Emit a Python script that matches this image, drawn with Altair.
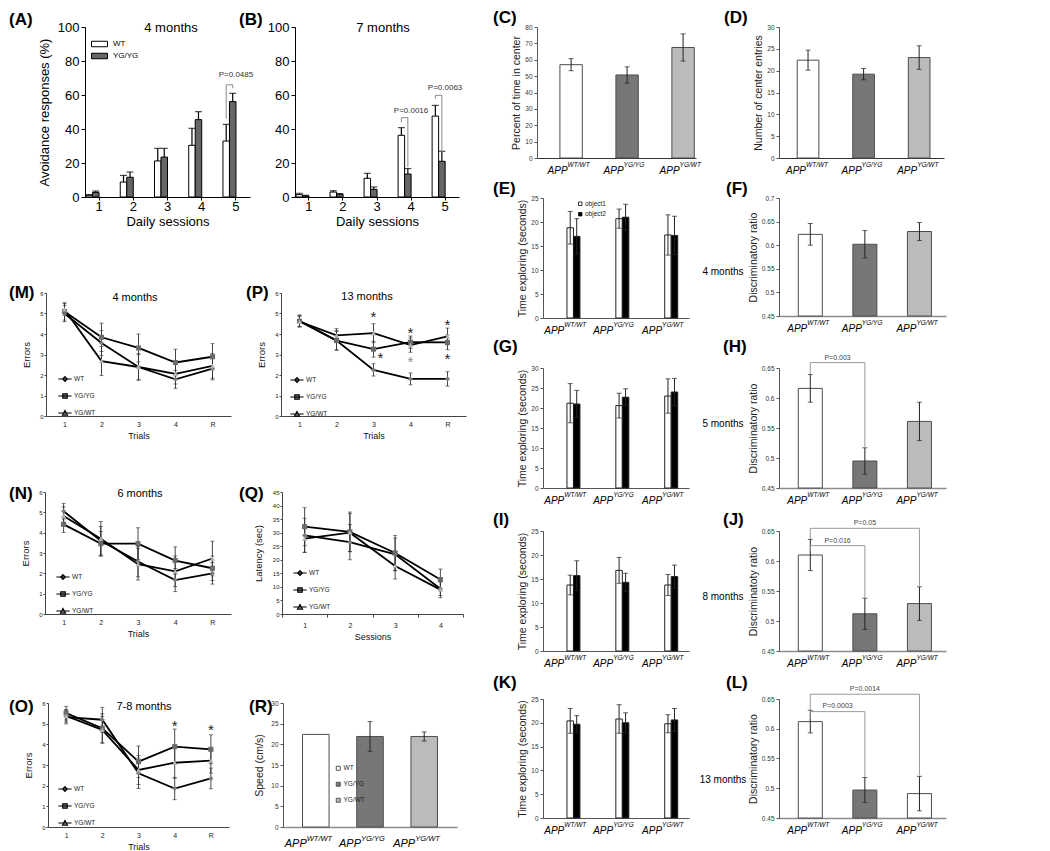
import altair as alt
import pandas as pd

FONT = "Liberation Sans"

# ======================= DATA =======================
# (A) / (B) active avoidance
SESSIONS = ["1", "2", "3", "4", "5"]
AB_GROUPS = ["WT", "YG/YG"]
A_WT = [1.0, 8.8, 21.2, 30.4, 32.9]
A_WT_ERR = [0.4, 3.9, 7.4, 10.0, 9.8]
A_YG = [2.7, 11.6, 23.5, 45.5, 56.1]
A_YG_ERR = [0.8, 3.1, 5.1, 4.7, 4.9]
B_WT = [1.4, 2.9, 11.0, 36.3, 47.6]
B_WT_ERR = [0.8, 0.8, 2.9, 4.5, 6.3]
B_YG = [0.6, 1.6, 4.5, 13.5, 21.0]
B_YG_ERR = [0.4, 0.4, 1.4, 3.2, 5.9]
A_BR_ID = ["a5"] * 4
A_BR_SESSION = ["5"] * 4
A_BR_GROUP = ["WT", "WT", "YG/YG", "YG/YG"]
A_BR_Y = [46.0, 66.0, 66.0, 64.0]
A_P_LABEL = ["P=0.0485"]
A_P_SESSION = ["5"]
A_P_Y = [71.5]
B_BR_ID = ["b4"] * 4 + ["b5"] * 4
B_BR_SESSION = ["4"] * 4 + ["5"] * 4
B_BR_GROUP = ["WT", "WT", "YG/YG", "YG/YG"] * 2
B_BR_Y = [44.0, 46.7, 46.7, 17.6, 57.8, 59.8, 59.8, 26.5]
B_P_LABEL = ["P=0.0016", "P=0.0063"]
B_P_SESSION = ["4", "5"]
B_P_Y = [50.4, 64.3]

# (M)(N)(O)(P) errors, (Q) latency
TRIALS = ["1", "2", "3", "4", "R"]
SESSIONS4 = ["1", "2", "3", "4"]
LINE_GENOS = ["WT", "YG/YG", "YG/WT"]
M_WT = [5.0, 3.56, 2.39, 1.79, 2.31]
M_WT_ERR = [0.4, 0.6, 0.6, 0.44, 0.55]
M_YG = [5.1, 3.84, 3.32, 2.61, 2.89]
M_YG_ERR = [0.42, 0.69, 0.68, 0.65, 0.64]
M_YW = [5.2, 2.68, 2.39, 2.06, 2.44]
M_YW_ERR = [0.3, 0.71, 0.65, 0.5, 0.6]
P_WT = [4.65, 3.68, 2.25, 1.81, 1.81]
P_WT_ERR = [0.28, 0.45, 0.3, 0.29, 0.35]
P_YG = [4.62, 3.68, 3.26, 3.6, 3.59]
P_YG_ERR = [0.28, 0.48, 0.39, 0.3, 0.36]
P_YW = [4.6, 3.93, 4.04, 3.46, 3.88]
P_YW_ERR = [0.25, 0.33, 0.46, 0.35, 0.41]
P_STAR_TRIAL = ["3", "3", "4", "4", "R", "R"]
P_STAR_Y = [4.97, 2.97, 4.2, 2.77, 4.58, 2.93]
P_STAR_COLOR = ["#222222", "#222222", "#222222", "#8c8c8c", "#222222", "#222222"]
P_STAR_SIDE = [0, 1, 0, 0, 0, 0]
N_WT = [5.05, 3.6, 2.58, 1.67, 2.0]
N_WT_ERR = [0.38, 0.7, 0.75, 0.57, 0.53]
N_YG = [4.41, 3.46, 3.46, 2.63, 2.25]
N_YG_ERR = [0.4, 0.6, 0.78, 0.67, 0.6]
N_YW = [4.82, 3.7, 2.45, 2.1, 2.73]
N_YW_ERR = [0.45, 0.85, 0.78, 0.75, 0.85]
Q_WT = [29.0, 26.5, 22.0, 9.3]
Q_WT_ERR = [6.3, 6.5, 6.0, 2.5]
Q_YG = [32.2, 30.3, 22.5, 12.7]
Q_YG_ERR = [7.0, 7.3, 6.5, 3.9]
Q_YW = [27.8, 30.0, 17.7, 9.0]
Q_YW_ERR = [5.0, 7.0, 4.8, 3.0]
O_WT = [5.32, 5.19, 2.6, 1.86, 2.35]
O_WT_ERR = [0.33, 0.6, 0.74, 0.54, 0.5]
O_YG = [5.51, 4.78, 3.16, 3.89, 3.76]
O_YG_ERR = [0.33, 0.7, 0.76, 0.85, 0.7]
O_YW = [5.38, 4.7, 2.76, 3.11, 3.21]
O_YW_ERR = [0.3, 0.65, 0.7, 0.75, 0.6]
O_STAR_TRIAL = ["4", "R"]
O_STAR_Y = [5.03, 4.86]
O_STAR_COLOR = ["#222222", "#222222"]
O_STAR_SIDE = [0, 0]

# right column genotype bar charts
GENO = ["WT/WT", "YG/YG", "YG/WT"]
OBJECTS = ["object1", "object2"]
C_VAL = [57.0, 50.7, 67.5]
C_ERR = [3.7, 5.0, 8.3]
D_VAL = [22.4, 19.2, 23.0]
D_ERR = [2.3, 1.3, 2.7]
E_OBJ1 = [18.8, 20.7, 17.3]
E_OBJ1_ERR = [3.4, 2.0, 4.2]
E_OBJ2 = [17.0, 21.0, 17.2]
E_OBJ2_ERR = [3.7, 2.7, 4.0]
F_VAL = [0.623, 0.602, 0.629]
F_ERR = [0.023, 0.029, 0.019]
G_OBJ1 = [21.2, 20.6, 23.0]
G_OBJ1_ERR = [4.9, 3.1, 4.3]
G_OBJ2 = [21.0, 22.7, 24.0]
G_OBJ2_ERR = [3.4, 2.1, 3.4]
H_VAL = [0.616, 0.495, 0.561]
H_ERR = [0.023, 0.022, 0.032]
I_OBJ1 = [13.75, 16.8, 13.75]
I_OBJ1_ERR = [2.05, 2.7, 2.2]
I_OBJ2 = [15.7, 14.3, 15.5]
I_OBJ2_ERR = [3.1, 1.9, 2.4]
J_VAL = [0.610, 0.512, 0.529]
J_ERR = [0.026, 0.026, 0.028]
K_OBJ1 = [20.4, 20.8, 19.8]
K_OBJ1_ERR = [2.6, 3.0, 1.9]
K_OBJ2 = [19.7, 20.0, 20.6]
K_OBJ2_ERR = [1.8, 2.1, 2.4]
L_VAL = [0.612, 0.497, 0.491]
L_ERR = [0.019, 0.021, 0.029]
R_VAL = [22.4, 21.9, 21.9]
R_ERR = [0.0, 3.6, 1.1]
H_BR_ID = ["h"] * 4
H_BR_GENO = ["WT/WT", "WT/WT", "YG/YG", "YG/YG"]
H_BR_Y = [0.640, 0.659, 0.659, 0.519]
H_P_LABEL = ["P=0.003"]
H_P_FROM = ["WT/WT"]
H_P_TO = ["YG/YG"]
H_P_Y = [0.666]
J_BR_ID = ["j1"] * 4 + ["j2"] * 4
J_BR_GENO = ["WT/WT", "WT/WT", "YG/WT", "YG/WT", "WT/WT", "WT/WT", "YG/YG", "YG/YG"]
J_BR_Y = [0.637, 0.6545, 0.6545, 0.557, 0.617, 0.6256, 0.6256, 0.538]
J_P_LABEL = ["P=0.05", "P=0.016"]
J_P_FROM = ["WT/WT", "WT/WT"]
J_P_TO = ["YG/WT", "YG/YG"]
J_P_Y = [0.663, 0.634]
L_BR_ID = ["l1"] * 4 + ["l2"] * 4
L_BR_GENO = ["WT/WT", "WT/WT", "YG/WT", "YG/WT", "WT/WT", "WT/WT", "YG/YG", "YG/YG"]
L_BR_Y = [0.630, 0.658, 0.658, 0.5215, 0.6165, 0.6288, 0.6288, 0.519]
L_P_LABEL = ["P=0.0014", "P=0.0003"]
L_P_FROM = ["WT/WT", "WT/WT"]
L_P_TO = ["YG/WT", "YG/YG"]
L_P_Y = [0.667, 0.638]

# ======================= STYLE =======================
MARK_SHAPES = ["diamond", "square", "triangle-up"]
MARK_FILLS = ["#7c7c7c", "#6a6a6a", "#b2b2b2"]
LEGEND_PATHS = [
    "M-2.2,0H2.2M0,-0.8L0.8,0L0,0.8L-0.8,0Z",
    "M-2.2,0H2.2M-0.75,-0.75H0.75V0.75H-0.75Z",
    "M-2.2,0H2.2M0,-0.85L0.85,0.7H-0.85Z",
]


def letter(text, x, y):
    """Panel letter, placed relative to the plot area's top-left corner."""
    return alt.Chart(pd.DataFrame({"t": [text]})).mark_text(
        fontSize=17, fontWeight="bold", font=FONT, align="left", baseline="alphabetic",
        color="black").encode(x=alt.value(x), y=alt.value(y), text="t:N")


def note(text, x, y, size, color="black"):
    return alt.Chart(pd.DataFrame({"t": [text]})).mark_text(
        fontSize=size, font=FONT, align="center", baseline="middle", color=color
    ).encode(x=alt.value(x), y=alt.value(y), text="t:N")


def spacer(w):
    return alt.Chart(pd.DataFrame({"t": [""]})).mark_text().encode(
        text="t:N").properties(width=w, height=1)


def indep(ch):
    return ch.resolve_scale(fill="independent", color="independent", shape="independent")


# ---------------- (A)/(B) ----------------
def ab_panel(wt, wte, yg, yge, br, pt, lab, lpos, month, mx, ytitle, legend, w, h=170):
    rows = []
    for i, s in enumerate(SESSIONS):
        rows.append({"s": s, "grp": "WT", "v": wt[i], "hi": wt[i] + wte[i]})
        rows.append({"s": s, "grp": "YG/YG", "v": yg[i], "hi": yg[i] + yge[i]})
    df = pd.DataFrame(rows)
    xax = alt.Axis(title="Daily sessions", labelAngle=0, labelFontSize=13, titleFontSize=13,
                   titleFontWeight="normal", tickSize=3, labelPadding=0, titlePadding=2,
                   domainColor="black", tickColor="black", labelColor="black", titleColor="black",
                   labelFont=FONT, titleFont=FONT)
    xsc = alt.Scale(domain=SESSIONS, paddingInner=0.24, paddingOuter=0.03)
    x = alt.X("s:N", sort=SESSIONS, scale=xsc, axis=xax)
    xo = alt.XOffset("grp:N", sort=AB_GROUPS, scale=alt.Scale(domain=AB_GROUPS))
    yax = alt.Axis(values=[0, 20, 40, 60, 80, 100], title=ytitle, labelFontSize=13,
                   titleFontSize=13, titleFontWeight="normal", tickSize=4, labelPadding=2,
                   titlePadding=6, domainColor="black", tickColor="black", labelColor="black",
                   titleColor="black", labelFont=FONT, titleFont=FONT)
    ysc = alt.Scale(domain=[0, 100], nice=False)

    def Y(f):
        return alt.Y(f, scale=ysc, axis=yax)

    fill = alt.Fill("grp:N", sort=AB_GROUPS,
                    scale=alt.Scale(domain=AB_GROUPS, range=["white", "#666666"]), legend=legend)
    base = alt.Chart(df)
    bars = base.mark_bar(stroke="black", strokeWidth=1).encode(x=x, xOffset=xo, y=Y("v:Q"), fill=fill)
    rule = base.mark_rule(color="black", strokeWidth=1.2).encode(
        x=x, xOffset=xo, y=Y("v:Q"), y2="hi:Q")
    cap = base.mark_tick(color="black", thickness=1.2, size=7).encode(
        x=x, xOffset=xo, y=Y("hi:Q"))
    ids, ss, gs, ys = br
    order = [sum(1 for j in range(k) if ids[j] == b) for k, b in enumerate(ids)]
    bdf = pd.DataFrame({"id": ids, "s": ss, "grp": gs, "y": ys, "o": order})
    brk = alt.Chart(bdf).mark_line(color="#8a8a8a", strokeWidth=1).encode(
        x=x, xOffset=xo, y=Y("y:Q"), detail="id:N", order="o:Q")
    labs, lss, lys = pt
    pdf = pd.DataFrame({"t": labs, "s": lss, "y": lys})
    ptxt = alt.Chart(pdf).mark_text(fontSize=8, font=FONT, color="#333333", fill="#333333",
                                    baseline="middle").encode(x=x, y=Y("y:Q"), text="t:N")
    mon = note(month, mx, 1, 13)
    return alt.layer(bars, rule, cap, brk, ptxt, mon, letter(lab, *lpos)).properties(
        width=w, height=h)


# ---------------- line panels ----------------
def line_panel(cats, series, w, h, ydom, yvals, ytitle, xtitle, lab, lpos,
               legx, legy, month=None, mpos=(0, 0), stars=None, band=False, tpad=8):
    rows = []
    for g, (vals, errs) in zip(LINE_GENOS, series):
        for i, c in enumerate(cats):
            rows.append({"c": c, "i": i, "g": g, "v": vals[i],
                         "lo": vals[i] - errs[i], "hi": vals[i] + errs[i]})
    df = pd.DataFrame(rows)
    axkw = dict(labelFontSize=7, labelFont=FONT, labelColor="#222222", titleFontSize=9,
                titleFont=FONT, titleFontWeight="normal", titleColor="#111111",
                domainColor="#444444", labelAngle=0, labelPadding=4, titlePadding=4)
    if band:
        xsc = alt.Scale(type="band", domain=cats, paddingInner=0, paddingOuter=0)
        xax = alt.Axis(title=xtitle, ticks=True, tickBand="extent", tickSize=3,
                       tickColor="#444444", **axkw)
    else:
        xsc = alt.Scale(type="point", domain=cats, padding=0.5)
        xax = alt.Axis(title=xtitle, ticks=False, **axkw)
    x = alt.X("c:N", sort=cats, scale=xsc, axis=xax)
    yax = alt.Axis(values=yvals, title=ytitle, labelFontSize=6, labelFont=FONT,
                   labelColor="#222222", tickSize=2, tickColor="#444444", domainColor="#444444",
                   titleFontSize=9.5, titleFont=FONT, titleFontWeight="normal",
                   titleColor="#111111", titlePadding=tpad, labelPadding=1)
    ysc = alt.Scale(domain=ydom, nice=False)

    def Y(f):
        return alt.Y(f, scale=ysc, axis=yax)

    base = alt.Chart(df)
    lines = base.mark_line(color="black", strokeWidth=1.8).encode(
        x=x, y=Y("v:Q"), detail="g:N", order="i:Q")
    rule = base.mark_rule(color="#333333", strokeWidth=0.9).encode(x=x, y=Y("lo:Q"), y2="hi:Q")
    caplo = base.mark_tick(color="#333333", thickness=0.9, size=4).encode(x=x, y=Y("lo:Q"))
    caphi = base.mark_tick(color="#333333", thickness=0.9, size=4).encode(x=x, y=Y("hi:Q"))
    marks = base.mark_point(filled=True, opacity=1, size=26, strokeWidth=0).encode(
        x=x, y=Y("v:Q"),
        shape=alt.Shape("g:N", scale=alt.Scale(domain=LINE_GENOS, range=MARK_SHAPES), legend=None),
        color=alt.Color("g:N", scale=alt.Scale(domain=LINE_GENOS, range=MARK_FILLS), legend=None))
    leg = alt.Legend(title=None, orient="none", legendX=legx, legendY=legy, direction="vertical",
                     symbolSize=36, symbolStrokeColor="black", symbolStrokeWidth=1.1,
                     labelFontSize=6.5, labelFont=FONT, labelColor="#222222", labelOffset=5,
                     rowPadding=7, padding=0)
    legl = base.transform_filter("false").mark_point(
        filled=True, opacity=1, stroke="black", strokeWidth=1.1).encode(
        shape=alt.Shape("g:N", scale=alt.Scale(domain=LINE_GENOS, range=LEGEND_PATHS), legend=leg),
        color=alt.Color("g:N", scale=alt.Scale(domain=LINE_GENOS, range=MARK_FILLS), legend=leg))
    layers = [lines, rule, caplo, caphi, marks, legl]
    if stars is not None:
        s_cats, s_ys, s_cols, s_side = stars
        sdf = pd.DataFrame({"c": s_cats, "y": s_ys, "col": s_cols, "side": s_side})
        for side, dx in [(0, 0), (1, 7)]:
            layers.append(alt.Chart(sdf).transform_filter(f"datum.side == {side}").mark_text(
                text="*", fontSize=15, font=FONT, baseline="middle", dx=dx, dy=3).encode(
                x=x, y=Y("y:Q"), color=alt.Color("col:N", scale=None, legend=None)))
    if month:
        layers.append(note(month, mpos[0], mpos[1], 11))
    layers.append(letter(lab, *lpos))
    return alt.layer(*layers).resolve_scale(shape="independent", color="independent").properties(
        width=w, height=h)


# ---------------- genotype bar panels ----------------
def app_labels(h, dx, x, app_size=10, sup_size=6.5, y_app=16, y_sup=9):
    df = pd.DataFrame({"g": GENO})
    app = alt.Chart(df).mark_text(text="APP", align="right", baseline="alphabetic",
                                  fontSize=app_size, fontStyle="italic", font=FONT, dx=dx,
                                  color="black").encode(x=x, y=alt.value(h + y_app))
    sup = alt.Chart(df).mark_text(align="left", baseline="alphabetic", fontSize=sup_size,
                                  fontStyle="italic", font=FONT, dx=dx, color="black").encode(
        x=x, y=alt.value(h + y_sup), text="g:N")
    return [app, sup]


def yaxis_small(title, values, fmt=None, tpad=3):
    kw = dict(values=values, title=title, labelFontSize=6.5, labelFont=FONT, labelColor="#333333",
              tickSize=3, tickColor="#555555", domainColor="#555555", titleFontSize=10.5,
              titleFont=FONT, titleFontWeight="normal", titleColor="#222222",
              titlePadding=tpad, labelPadding=2, grid=False)
    if fmt:
        kw["format"] = fmt
    return alt.Axis(**kw)


def bar_panel(vals, errs, fills, ydom, yvals, ytitle, w, h, lab, lpos, pi, po, al,
              fmt=None, app_dx=-3, app_kw=None, br=None, pt=None, side=None, legend=None,
              tpad=3, xcolor="#8c8c8c", xwidth=1.5):
    df = pd.DataFrame({"g": GENO, "v": vals, "e": errs,
                       "lo": [v - e for v, e in zip(vals, errs)],
                       "hi": [v + e for v, e in zip(vals, errs)]})
    x = alt.X("g:N", sort=GENO,
              scale=alt.Scale(domain=GENO, paddingInner=pi, paddingOuter=po, align=al),
              axis=alt.Axis(title=None, labels=False, ticks=False, domainColor=xcolor,
                            domainWidth=xwidth))
    ysc = alt.Scale(domain=ydom, nice=False, zero=False)
    yax = yaxis_small(ytitle, yvals, fmt, tpad)

    def Y(f):
        return alt.Y(f, scale=ysc, axis=yax)

    base = alt.Chart(df)
    bars = base.mark_bar(stroke="#4d4d4d", strokeWidth=1).encode(
        x=x, y=Y("v:Q"), y2=alt.datum(ydom[0]),
        fill=alt.Fill("g:N", sort=GENO, scale=alt.Scale(domain=GENO, range=fills), legend=legend))
    eb = base.transform_filter("datum.e > 0")
    rule = eb.mark_rule(color="#222222", strokeWidth=1).encode(x=x, y=Y("lo:Q"), y2="hi:Q")
    caplo = eb.mark_tick(color="#222222", thickness=1, size=5).encode(x=x, y=Y("lo:Q"))
    caphi = eb.mark_tick(color="#222222", thickness=1, size=5).encode(x=x, y=Y("hi:Q"))
    layers = [bars, rule, caplo, caphi]
    step = w / (3 - pi + 2 * po)
    if br is not None:
        ids, gs, ys = br
        order = [sum(1 for j in range(k) if ids[j] == b) for k, b in enumerate(ids)]
        bdf = pd.DataFrame({"id": ids, "g": gs, "y": ys, "o": order})
        layers.append(alt.Chart(bdf).mark_line(color="#9a9a9a", strokeWidth=1).encode(
            x=x, y=Y("y:Q"), detail="id:N", order="o:Q"))
    if pt is not None:
        labs, fr, to, ys = pt
        for labl, f, t, yv in zip(labs, fr, to, ys):
            mid = (GENO.index(f) + GENO.index(t)) / 2.0
            cat = GENO[int(mid)]
            dx = (mid - int(mid)) * step
            tdf = pd.DataFrame({"t": [labl], "g": [cat], "y": [yv]})
            layers.append(alt.Chart(tdf).mark_text(fontSize=7, font=FONT, color="#444444",
                                                   fill="#444444", baseline="middle",
                                                   dx=dx).encode(
                x=x, y=Y("y:Q"), text="t:N"))
    layers += app_labels(h, app_dx, x, **(app_kw or {}))
    if side is not None:
        layers.append(note(side[0], side[1], side[2], 10))
    layers.append(letter(lab, *lpos))
    return alt.layer(*layers).properties(width=w, height=h)


def group_panel(o1, e1, o2, e2, ydom, yvals, ytitle, w, h, lab, lpos, legend=None):
    rows = []
    for i, g in enumerate(GENO):
        rows.append({"g": g, "obj": "object1", "v": o1[i], "lo": o1[i] - e1[i], "hi": o1[i] + e1[i]})
        rows.append({"g": g, "obj": "object2", "v": o2[i], "lo": o2[i] - e2[i], "hi": o2[i] + e2[i]})
    df = pd.DataFrame(rows)
    x = alt.X("g:N", sort=GENO,
              scale=alt.Scale(domain=GENO, paddingInner=0.413, paddingOuter=0.2, align=0.56),
              axis=alt.Axis(title=None, labels=False, ticks=False, domainColor="#555555"))
    xo = alt.XOffset("obj:N", sort=OBJECTS,
                     scale=alt.Scale(domain=OBJECTS, paddingInner=0, paddingOuter=0))
    ysc = alt.Scale(domain=ydom, nice=False)
    yax = yaxis_small(ytitle, yvals)

    def Y(f):
        return alt.Y(f, scale=ysc, axis=yax)

    base = alt.Chart(df)
    bars = base.mark_bar(stroke="#222222", strokeWidth=1).encode(
        x=x, xOffset=xo, y=Y("v:Q"),
        fill=alt.Fill("obj:N", sort=OBJECTS,
                      scale=alt.Scale(domain=OBJECTS, range=["white", "black"]), legend=legend))
    rule = base.mark_rule(color="#222222", strokeWidth=1).encode(
        x=x, xOffset=xo, y=Y("lo:Q"), y2="hi:Q")
    caplo = base.mark_tick(color="#222222", thickness=1, size=5).encode(x=x, xOffset=xo, y=Y("lo:Q"))
    caphi = base.mark_tick(color="#222222", thickness=1, size=5).encode(x=x, xOffset=xo, y=Y("hi:Q"))
    layers = [bars, rule, caplo, caphi] + app_labels(h, -4, x) + [letter(lab, *lpos)]
    return alt.layer(*layers).properties(width=w, height=h)


# ======================= PANELS =======================
leg_ab = alt.Legend(title=None, orient="none", legendX=9, legendY=11.5, direction="vertical",
                    symbolType="M-1.6,-0.55H1.6V0.55H-1.6Z", symbolSize=100,
                    symbolStrokeColor="black", symbolStrokeWidth=1, labelFontSize=8,
                    labelFont=FONT, labelColor="black", labelOffset=8, rowPadding=1, padding=0)
pA = ab_panel(A_WT, A_WT_ERR, A_YG, A_YG_ERR, (A_BR_ID, A_BR_SESSION, A_BR_GROUP, A_BR_Y),
              (A_P_LABEL, A_P_SESSION, A_P_Y), "(A)", (-76, -2.5), "4 months", 86,
              "Avoidance responses (%)", leg_ab, 165)
pB = ab_panel(B_WT, B_WT_ERR, B_YG, B_YG_ERR, (B_BR_ID, B_BR_SESSION, B_BR_GROUP, B_BR_Y),
              (B_P_LABEL, B_P_SESSION, B_P_Y), "(B)", (-56, -2.5), "7 months", 88, None, None, 164)

ERR_VALS = [0, 1, 2, 3, 4, 5, 6]
pM = line_panel(TRIALS, [(M_WT, M_WT_ERR), (M_YG, M_YG_ERR), (M_YW, M_YW_ERR)], 185, 123,
                [0, 6], ERR_VALS, "Errors", "Trials", "(M)", (-37, 4.5), 15, 82,
                month="4 months", mpos=(89, 5))
pP = line_panel(TRIALS, [(P_WT, P_WT_ERR), (P_YG, P_YG_ERR), (P_YW, P_YW_ERR)], 185, 123,
                [0, 6], ERR_VALS, "Errors", "Trials", "(P)", (-35, 4.5), 12, 83,
                month="13 months", mpos=(86, 4),
                stars=(P_STAR_TRIAL, P_STAR_Y, P_STAR_COLOR, P_STAR_SIDE))
pN = line_panel(TRIALS, [(N_WT, N_WT_ERR), (N_YG, N_YG_ERR), (N_YW, N_YW_ERR)], 186, 122,
                [0, 6], ERR_VALS, "Errors", "Trials", "(N)", (-36, 6.5), 14, 81,
                month="6 months", mpos=(95, 2))
pQ = line_panel(SESSIONS4, [(Q_WT, Q_WT_ERR), (Q_YG, Q_YG_ERR), (Q_YW, Q_YW_ERR)], 181, 122,
                [0, 45], list(range(0, 46, 5)), "Latency (sec)", "Sessions", "(Q)", (-43, 6.5),
                14, 77, band=True, tpad=9)
pO = line_panel(TRIALS, [(O_WT, O_WT_ERR), (O_YG, O_YG_ERR), (O_YW, O_YW_ERR)], 181, 124,
                [0, 6], ERR_VALS, "Errors", "Trials", "(O)", (-39, 8.5), 13, 82,
                month="7-8 months", mpos=(96, 4),
                stars=(O_STAR_TRIAL, O_STAR_Y, O_STAR_COLOR, O_STAR_SIDE))
leg_r = alt.Legend(title=None, orient="none", legendX=52, legendY=62, direction="vertical",
                   symbolType="square", symbolSize=16, symbolStrokeColor="#555555",
                   symbolStrokeWidth=1, labelFontSize=6.5, labelFont=FONT, labelColor="#222222",
                   labelOffset=2, rowPadding=7, padding=0,
                   labelExpr="datum.label == 'WT/WT' ? 'WT' : datum.label")
pR = bar_panel(R_VAL, R_ERR, ["white", "#777777", "#bbbbbb"], [0, 30], list(range(0, 31, 5)),
               "Speed (cm/s)", 174, 124, "(R)", (-34, 8.5), 0.51, 0.36, 0.5, app_dx=-9,
               app_kw=dict(app_size=11, sup_size=7.5, y_app=20, y_sup=14), legend=leg_r, tpad=6)

FILLS3 = ["white", "#777777", "#bbbbbb"]
RATIO_VALS = [0.45, 0.5, 0.55, 0.6, 0.65]
pC = bar_panel(C_VAL, C_ERR, FILLS3, [0, 80], list(range(0, 81, 10)), "Percent of time in center",
               159, 131, "(C)", (-44, -4.5), 0.6, 0.22, 0.93, app_dx=-3.5, xcolor="#333333",
               xwidth=1)
pD = bar_panel(D_VAL, D_ERR, FILLS3, [0, 30], list(range(0, 31, 5)), "Number of center entries",
               165, 131, "(D)", (-55, -4.5), 0.61, 0.29, 0.565, app_dx=-2, xcolor="#333333",
               xwidth=1)
leg_e = alt.Legend(title=None, orient="none", legendX=34, legendY=2.5, direction="vertical",
                   symbolType="square", symbolSize=12, symbolStrokeColor="black",
                   symbolStrokeWidth=0.8, labelFontSize=6.5, labelFont=FONT, labelColor="#222222",
                   labelOffset=1.5, rowPadding=2.5, padding=0)
pE = group_panel(E_OBJ1, E_OBJ1_ERR, E_OBJ2, E_OBJ2_ERR, [0, 25], list(range(0, 26, 5)),
                 "Time exploring (seconds)", 146, 120, "(E)", (-50, -4.5), legend=leg_e)
pF = bar_panel(F_VAL, F_ERR, FILLS3, [0.45, 0.7], [0.45, 0.5, 0.55, 0.6, 0.65, 0.7],
               "Discriminatory ratio", 167, 118, "(F)", (-53, -4.5), 0.56, 0.31, 0.57, fmt="~g",
               side=("4 months", -56, 74))
pG = group_panel(G_OBJ1, G_OBJ1_ERR, G_OBJ2, G_OBJ2_ERR, [0, 30], list(range(0, 31, 5)),
                 "Time exploring (seconds)", 146, 120, "(G)", (-50, -16))
pH = bar_panel(H_VAL, H_ERR, FILLS3, [0.45, 0.65], RATIO_VALS, "Discriminatory ratio",
               167, 120, "(H)", (-56, -16), 0.56, 0.31, 0.57, fmt="~g",
               br=(H_BR_ID, H_BR_GENO, H_BR_Y), pt=(H_P_LABEL, H_P_FROM, H_P_TO, H_P_Y),
               side=("5 months", -56, 56))
pI = group_panel(I_OBJ1, I_OBJ1_ERR, I_OBJ2, I_OBJ2_ERR, [0, 25], list(range(0, 26, 5)),
                 "Time exploring (seconds)", 146, 120, "(I)", (-50, -6.5))
pJ = bar_panel(J_VAL, J_ERR, FILLS3, [0.45, 0.65], RATIO_VALS, "Discriminatoty ratio",
               167, 120, "(J)", (-56, -6.5), 0.56, 0.31, 0.57, fmt="~g",
               br=(J_BR_ID, J_BR_GENO, J_BR_Y), pt=(J_P_LABEL, J_P_FROM, J_P_TO, J_P_Y),
               side=("8 months", -56, 66))
pK = group_panel(K_OBJ1, K_OBJ1_ERR, K_OBJ2, K_OBJ2_ERR, [0, 25], list(range(0, 26, 5)),
                 "Time exploring (seconds)", 146, 119, "(K)", (-50, -11.5))
pL = bar_panel(L_VAL, L_ERR, ["white", "#777777", "white"], [0.45, 0.65], RATIO_VALS,
               "Discriminatory ratio", 167, 119, "(L)", (-53, -11.5), 0.56, 0.31, 0.57, fmt="~g",
               br=(L_BR_ID, L_BR_GENO, L_BR_Y), pt=(L_P_LABEL, L_P_FROM, L_P_TO, L_P_Y),
               side=("13 months", -56, 81))


# ======================= LAYOUT =======================
def row(a, b, gap, shift=0):
    inner = indep(alt.hconcat(a, b, spacing=gap, bounds="flush"))
    if shift <= 0:
        return inner
    return indep(alt.hconcat(spacer(shift), inner, spacing=0, bounds="flush"))


# left column: plot-area left edges relative to panel N
rowAB = row(pA, pB, 45, 40)
rowMP = row(pM, pP, 50, 1)
rowNQ = row(pN, pQ, 51, 0)
rowOR = row(pO, pR, 54, 3)
left = indep(alt.vconcat(
    rowAB,
    indep(alt.vconcat(rowMP, indep(alt.vconcat(rowNQ, rowOR, spacing=55)), spacing=43)),
    spacing=54))

# right column: plot-area left edges relative to panel C
rowCD = row(pC, pD, 83, 0)
rowEF = row(pE, pF, 90, 6)
rowGH = row(pG, pH, 90, 6)
rowIJ = row(pI, pJ, 90, 6)
rowKL = row(pK, pL, 90, 6)
right = indep(alt.vconcat(
    rowCD,
    indep(alt.vconcat(rowEF,
                      indep(alt.vconcat(rowGH, indep(alt.vconcat(rowIJ, rowKL, spacing=3)),
                                        spacing=3)),
                      spacing=0)),
    spacing=2))

chart = indep(alt.hconcat(left, right, spacing=25)).properties(
    padding=0, background="white"
).configure(font=FONT).configure_view(stroke="transparent").configure_axis(grid=False)

chart.save("out.html", embed_options={"renderer": "svg", "actions": False})
